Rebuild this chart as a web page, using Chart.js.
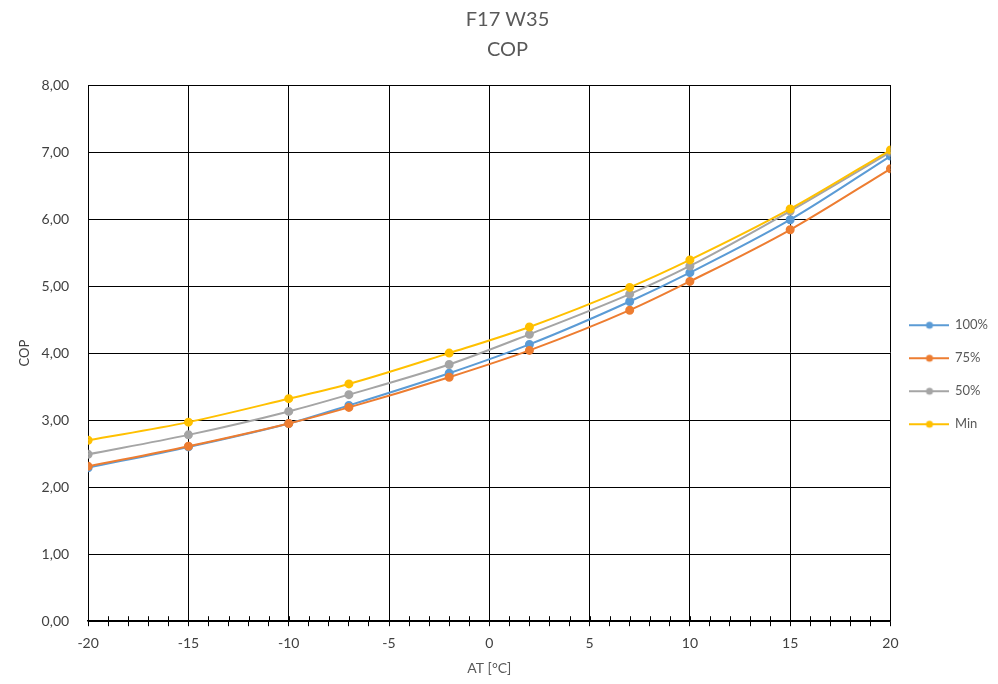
<!DOCTYPE html>
<html>
<head>
<meta charset="utf-8">
<script src="https://cdn.jsdelivr.net/npm/chart.js@4.4.0/dist/chart.umd.min.js"></script>
<style>
  html, body { margin: 0; padding: 0; background: #fff; }
  #wrap { width: 998px; height: 684px; }
</style>
</head>
<body>
<div id="wrap"><canvas id="myChart" width="998" height="684"></canvas></div>
<script>
// temperature points (AT °C)
const temps = [-20, -15, -10, -7, -2, 2, 7, 10, 15, 20];

// COP values
const cop100 = [2.29, 2.60, 2.95, 3.22, 3.70, 4.13, 4.77, 5.20, 5.99, 6.94];
const cop75  = [2.31, 2.61, 2.95, 3.19, 3.64, 4.04, 4.64, 5.07, 5.84, 6.75];
const cop50  = [2.49, 2.78, 3.13, 3.38, 3.83, 4.28, 4.88, 5.30, 6.12, 7.00];
const copMin = [2.70, 2.97, 3.32, 3.54, 4.00, 4.39, 4.98, 5.39, 6.15, 7.03];

const seriesNames = ['100%', '75%', '50%', 'Min'];
const seriesColors = ['#5B9BD5', '#ED7D31', '#A5A5A5', '#FFC000'];

const fontFam = "Lato, 'Open Sans', sans-serif";
const textColor = '#595959';
const tickText = '#404040';

function toPoints(values) {
  return temps.map((t, i) => ({ x: t, y: values[i] }));
}

// little line + dot icon for the legend
function makeIcon(color) {
  const c = document.createElement('canvas');
  c.width = 40;
  c.height = 10;
  const g = c.getContext('2d');
  g.strokeStyle = color;
  g.lineWidth = 2;
  g.beginPath();
  g.moveTo(0, 5);
  g.lineTo(40, 5);
  g.stroke();
  g.fillStyle = color;
  g.beginPath();
  g.arc(20, 5, 3.5, 0, Math.PI * 2);
  g.fill();
  return c;
}
const icons = seriesColors.map(makeIcon);

// minor tick marks also poke up into the plot, like Excel's "cross" ticks
const crossTicks = {
  id: 'crossTicks',
  afterDatasetsDraw(chart) {
    const xs = chart.scales.x;
    const g = chart.ctx;
    const base = chart.chartArea.bottom;
    g.save();
    g.strokeStyle = '#000';
    g.lineWidth = 1;
    xs.ticks.forEach(t => {
      const px = Math.round(xs.getPixelForValue(t.value)) + 0.5;
      g.beginPath();
      g.moveTo(px, base - 5);
      g.lineTo(px, base);
      g.stroke();
    });
    g.restore();
  }
};

const allValues = [cop100, cop75, cop50, copMin];
const datasets = allValues.map((vals, i) => ({
  label: seriesNames[i],
  data: toPoints(vals),
  borderColor: seriesColors[i],
  backgroundColor: seriesColors[i],
  borderWidth: 2,
  pointRadius: 3.5,
  pointHoverRadius: 4,
  tension: 0.4,
  cubicInterpolationMode: 'monotone',
  order: 4 - i
}));

const ctx = document.getElementById('myChart');
new Chart(ctx, {
  type: 'line',
  data: { datasets: datasets },
  plugins: [crossTicks],
  options: {
    responsive: false,
    animation: false,
    layout: { padding: { top: 4, right: 0, bottom: 5, left: 17 } },
    plugins: {
      title: {
        display: true,
        text: ['F17 W35', 'COP'],
        color: textColor,
        font: { family: fontFam, size: 20, weight: 'normal', lineHeight: 1.5 },
        padding: { top: 1, bottom: 20 }
      },
      legend: {
        position: 'right',
        title: {
          display: true,
          text: ' ',
          font: { family: fontFam, size: 12 },
          padding: { top: 52, bottom: 0 }
        },
        labels: {
          usePointStyle: true,
          pointStyleWidth: 38,
          color: textColor,
          padding: 20,
          font: { family: fontFam, size: 13 },
          generateLabels: chart => {
            return chart.data.datasets.map((ds, i) => ({
              text: ds.label,
              fontColor: textColor,
              pointStyle: icons[i],
              strokeStyle: ds.borderColor,
              fillStyle: ds.backgroundColor,
              lineWidth: 0,
              hidden: false,
              datasetIndex: i
            }));
          }
        }
      },
      tooltip: { enabled: false }
    },
    scales: {
      x: {
        type: 'linear',
        min: -20,
        max: 20,
        title: {
          display: true,
          text: 'AT [°C]',
          color: textColor,
          font: { family: fontFam, size: 14, lineHeight: 1 },
          padding: { top: 0 }
        },
        ticks: {
          stepSize: 1,
          autoSkip: false,
          maxRotation: 0,
          padding: 9,
          color: tickText,
          font: { family: fontFam, size: 14 },
          callback: v => (v % 5 === 0 ? String(v) : '')
        },
        grid: {
          color: c => (c.tick && c.tick.value % 5 === 0 ? '#000' : 'rgba(0,0,0,0)'),
          tickColor: '#000',
          tickLength: 5,
          lineWidth: 1
        },
        border: { color: '#000', width: 1.5 }
      },
      y: {
        min: 0,
        max: 8,
        afterFit: s => { s.width -= 10; },
        title: {
          display: true,
          text: 'COP',
          color: tickText,
          font: { family: fontFam, size: 13 },
          padding: { top: 0, bottom: 0 }
        },
        ticks: {
          stepSize: 1,
          color: tickText,
          padding: 19,
          font: { family: fontFam, size: 14 },
          callback: v => v.toFixed(2).replace('.', ',')
        },
        grid: { color: '#000', lineWidth: 1, drawTicks: false },
        border: { color: '#000' }
      }
    }
  }
});
</script>
</body>
</html>
